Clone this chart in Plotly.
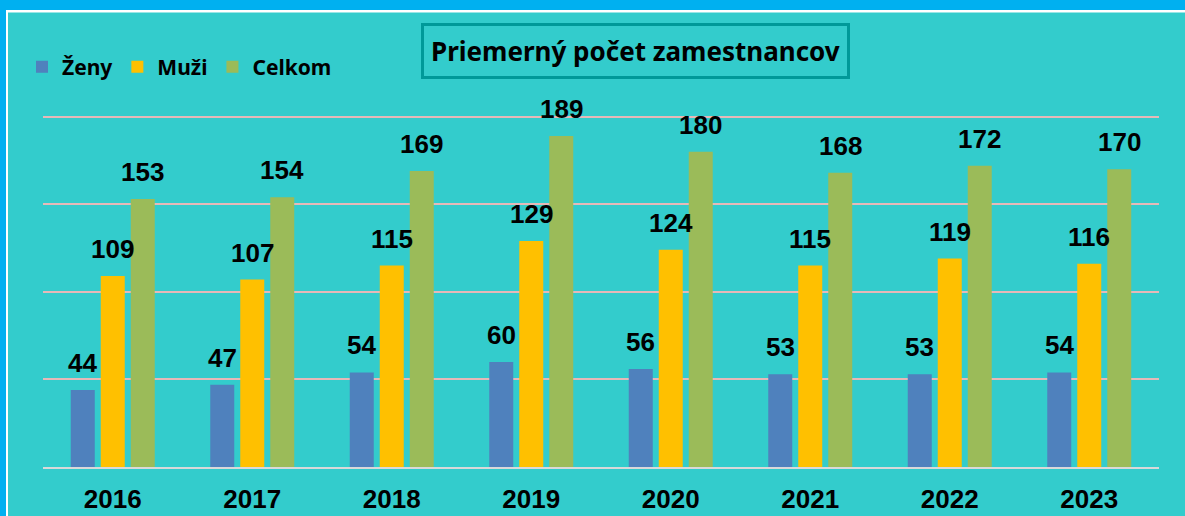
import plotly.graph_objects as go

years = ["2016", "2017", "2018", "2019", "2020", "2021", "2022", "2023"]
zeny = [44, 47, 54, 60, 56, 53, 53, 54]
muzi = [109, 107, 115, 129, 124, 115, 119, 116]
celkom = [153, 154, 169, 189, 180, 168, 172, 170]
series_names = ["Ženy", "Muži", "Celkom"]
series_colors = ["#4F81BD", "#FFC000", "#9BBB59"]
title_text = "Priemerný počet zamestnancov"

W, H = 1185, 516
ML, MR, MT, MB = 43, 26, 115, 49
PW, PH = W - ML - MR, H - MT - MB


def px_x(px):
    return (px - ML) / PW


def px_y(py):
    return (H - MB - py) / PH


fig = go.Figure()
for name, vals, col in zip(series_names, [zeny, muzi, celkom], series_colors):
    fig.add_trace(go.Bar(x=years, y=vals, name=name, marker=dict(color=col, line=dict(width=0))))

# value labels (x given as category index)
shifts = [-30, 0, 30]
for vals, sh in zip([zeny, muzi, celkom], shifts):
    for i, v in enumerate(vals):
        fig.add_annotation(x=i, y=v, text=f"<b>{v}</b>", showarrow=False,
                           xshift=sh, yshift=10, yanchor="bottom",
                           font=dict(family="Liberation Sans, Arial", size=26, color="black"))

# title box
fig.add_annotation(x=px_x(635), y=px_y(51), xref="paper", yref="paper",
                   text=f"<b>{title_text}</b>", showarrow=False,
                   xanchor="center", yanchor="middle",
                   font=dict(family="Noto Sans", size=26, color="black"),
                   bordercolor="#009999", borderwidth=3, borderpad=7)

# outer frame: blue band top and left with a thin white line inside
frame = [
    (-20, W + 20, -20, 12.5, "white"),
    (-20, 8, -20, H + 20, "white"),
    (-20, W + 20, -20, 10, "#00B0F0"),
    (-20, 6, -20, H + 20, "#00B0F0"),
]
for x0, x1, y0, y1, col in frame:
    fig.add_shape(type="rect", xref="paper", yref="paper", layer="below",
                  x0=px_x(x0), x1=px_x(x1), y0=px_y(y1), y1=px_y(y0),
                  fillcolor=col, line=dict(width=0))

fig.update_layout(
    width=W, height=H,
    margin=dict(l=ML, r=MR, t=MT, b=MB, pad=0, autoexpand=False),
    paper_bgcolor="#33CCCC",
    plot_bgcolor="#33CCCC",
    barmode="group", bargap=0.355, bargroupgap=0.2,
    showlegend=True,
    legend=dict(orientation="h", x=px_x(22), y=px_y(67), xanchor="left", yanchor="middle",
                font=dict(family="Noto Sans", size=21, color="black", weight="bold"),
                bgcolor="rgba(0,0,0,0)", itemwidth=30, traceorder="normal"),
    xaxis=dict(type="category", range=[-0.5, len(years) - 0.5], automargin=False,
               showgrid=False, showline=True, linecolor="#D9D9D9", linewidth=2,
               ticks="", tickfont=dict(family="Liberation Sans, Arial", size=26, color="black", weight="bold"),
               ticklabelstandoff=8),
    yaxis=dict(range=[0, 201], automargin=False, tickvals=[50, 100, 150, 200], showticklabels=False,
               showgrid=True, gridcolor="#E6B9B8", gridwidth=2, zeroline=False),
)

fig.write_html("out.html", config={"displayModeBar": False},
               post_script=("document.body.style.margin='0';"
                            "document.body.style.overflow='hidden';"
                            "document.body.style.background='#33CCCC';"
                            "document.documentElement.style.background='#33CCCC';"))
